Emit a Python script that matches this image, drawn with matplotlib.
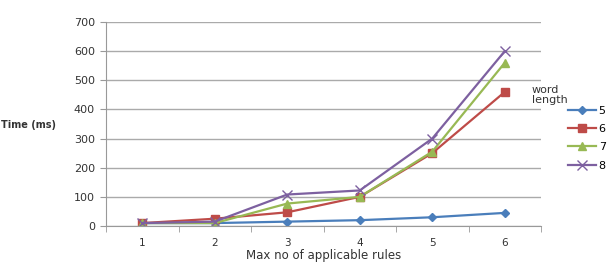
import numpy as np
import matplotlib.pyplot as plt

# data
rules = [1, 2, 3, 4, 5, 6]
len5 = [10, 10, 15, 20, 30, 45]
len6 = [10, 25, 47, 100, 250, 460]
len7 = [10, 10, 77, 100, 255, 560]
len8 = [10, 15, 108, 122, 300, 600]
names = ["5", "6", "7", "8"]

colors = ["#4a7ebb", "#be4b48", "#98b954", "#7d60a0"]
markers = ["D", "s", "^", "x"]
msizes = [4, 6, 6, 7]

fig = plt.figure(figsize=(6.11, 2.66), dpi=100)
ax = fig.add_axes([106/611, 40/266, 435/611, 204/266])

for vals, c, m, ms, nm in zip([len5, len6, len7, len8], colors, markers, msizes, names):
    ax.plot(rules, vals, color=c, marker=m, markersize=ms, linewidth=1.6,
            markeredgewidth=1, label=nm)

ax.set_xlim(0.5, 6.5)
ax.set_ylim(0, 700)
ax.set_yticks(np.arange(0, 701, 100))
ax.set_xticks(rules)
ax.set_xticks(np.arange(0.5, 6.6, 1), minor=True)
ax.tick_params(axis="x", which="major", length=0, labelsize=7.5, pad=9, colors="#333333")
ax.tick_params(axis="x", which="minor", length=4, color="#999999", direction="out")
ax.tick_params(axis="y", length=4, color="#999999", labelsize=8, colors="#333333", pad=4)
ax.grid(axis="y", color="#aaaaaa", linewidth=1)
ax.set_axisbelow(True)
for s in ["top", "right"]:
    ax.spines[s].set_visible(False)
ax.spines["left"].set_color("#999999")
ax.spines["bottom"].set_color("#999999")

ax.set_xlabel("Max no of applicable rules", fontsize=8.5, color="#333333", labelpad=0)
fig.text(0.002, 1 - 125/266, "Time (ms)", fontsize=7, fontweight="bold",
         color="#333333", va="center", ha="left")

fig.text(532/611, 1 - 95/266, "word\nlength", fontsize=8, color="#333333",
         va="center", ha="left", linespacing=1.0)
leg = ax.legend(loc="upper left", bbox_to_anchor=(562/611, 1 - 100/266),
                bbox_transform=fig.transFigure, frameon=False, fontsize=8,
                handlelength=2.6, handletextpad=0.2, labelspacing=0.75, borderpad=0)

fig.savefig("out.png", dpi=100)
